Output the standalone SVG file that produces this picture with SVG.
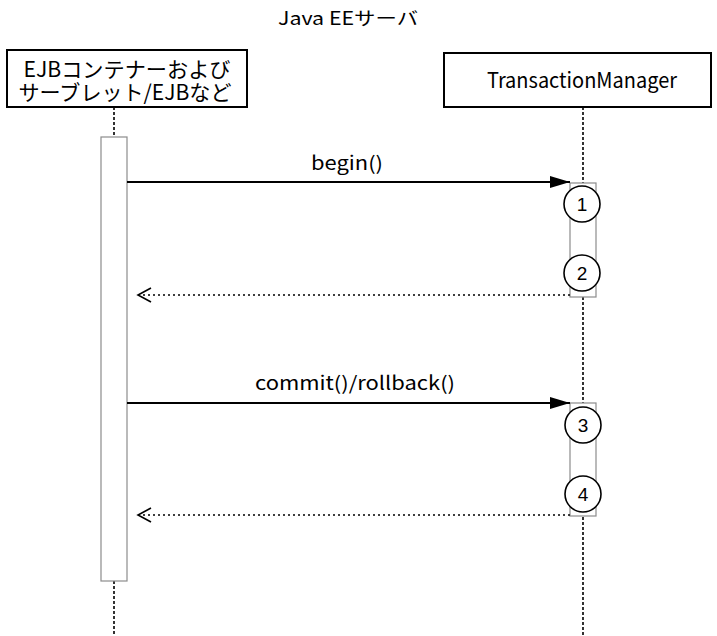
<svg xmlns="http://www.w3.org/2000/svg" width="717" height="636" viewBox="0 0 717 636">
<style>
.t{font-family:"Noto Sans CJK JP","Liberation Sans",sans-serif;fill:#000}
.box{fill:#fff;stroke:#000;stroke-width:2}
.life{stroke:#000;stroke-width:1.6;stroke-dasharray:3 2;fill:none}
.act{fill:#fff;stroke:#8c8c8c;stroke-width:1.2}
.call{stroke:#000;stroke-width:1.8;fill:none}
.ret{stroke:#000;stroke-width:1.5;stroke-dasharray:2 3;fill:none}
.num{fill:#fff;stroke:#000;stroke-width:1.6}
.nt{font-family:"Liberation Sans",Arial,sans-serif;font-size:19px;text-anchor:middle;fill:#000}
</style>
<defs>
<marker id="filled" markerUnits="userSpaceOnUse" markerWidth="20" markerHeight="12" refX="20" refY="6" orient="auto">
<path d="M0,0 L20,6 L0,12 z" fill="#000"/>
</marker>
<marker id="open" markerUnits="userSpaceOnUse" markerWidth="16" markerHeight="16" refX="14" refY="8" orient="auto">
<path d="M1,1 L14,8 L1,15" fill="none" stroke="#000" stroke-width="1.6"/>
</marker>
</defs>
<text class="t" x="348" y="25" font-size="18" text-anchor="middle" textLength="140" lengthAdjust="spacingAndGlyphs">Java EEサーバ</text>
<g id="lifelines">
<line class="life" x1="114" y1="107" x2="114" y2="137"/>
<line class="life" x1="114" y1="581" x2="114" y2="636"/>
<line class="life" x1="583" y1="107" x2="583" y2="636"/>
</g>
<g id="node-ejb">
<rect class="box" x="7" y="50" width="240" height="57"/>
<text class="t" font-size="21" text-anchor="middle"><tspan x="127" y="77" textLength="207" lengthAdjust="spacingAndGlyphs">EJBコンテナーおよび</tspan><tspan x="125" y="100" textLength="213" lengthAdjust="spacingAndGlyphs">サーブレット/EJBなど</tspan></text>
<rect class="act" x="101" y="137" width="26" height="444"/>
</g>
<g id="node-tm">
<rect class="box" x="444" y="53" width="267" height="54"/>
<text class="t" x="582" y="88" font-size="21" text-anchor="middle" textLength="190" lengthAdjust="spacingAndGlyphs">TransactionManager</text>
<rect class="act" x="570" y="183" width="26" height="114"/>
<rect class="act" x="570" y="403" width="26" height="113"/>
</g>
<g id="connectors">
<line class="call" x1="127" y1="182" x2="570" y2="182" marker-end="url(#filled)"/>
<line class="ret" x1="570" y1="295" x2="138" y2="295" marker-end="url(#open)"/>
<line class="call" x1="127" y1="403" x2="570" y2="403" marker-end="url(#filled)"/>
<line class="ret" x1="570" y1="515" x2="138" y2="515" marker-end="url(#open)"/>
<text class="t" x="347" y="170" font-size="19" text-anchor="middle" textLength="72" lengthAdjust="spacingAndGlyphs">begin()</text>
<text class="t" x="355" y="390" font-size="19" text-anchor="middle" textLength="200" lengthAdjust="spacingAndGlyphs">commit()/rollback()</text>
</g>
<g id="step1"><circle class="num" cx="582" cy="204" r="18"/><text class="nt" x="582" y="211">1</text></g>
<g id="step2"><circle class="num" cx="582" cy="273" r="18"/><text class="nt" x="582" y="280">2</text></g>
<g id="step3"><circle class="num" cx="583" cy="425" r="18"/><text class="nt" x="583" y="432">3</text></g>
<g id="step4"><circle class="num" cx="583" cy="494" r="18"/><text class="nt" x="583" y="501">4</text></g>
</svg>
